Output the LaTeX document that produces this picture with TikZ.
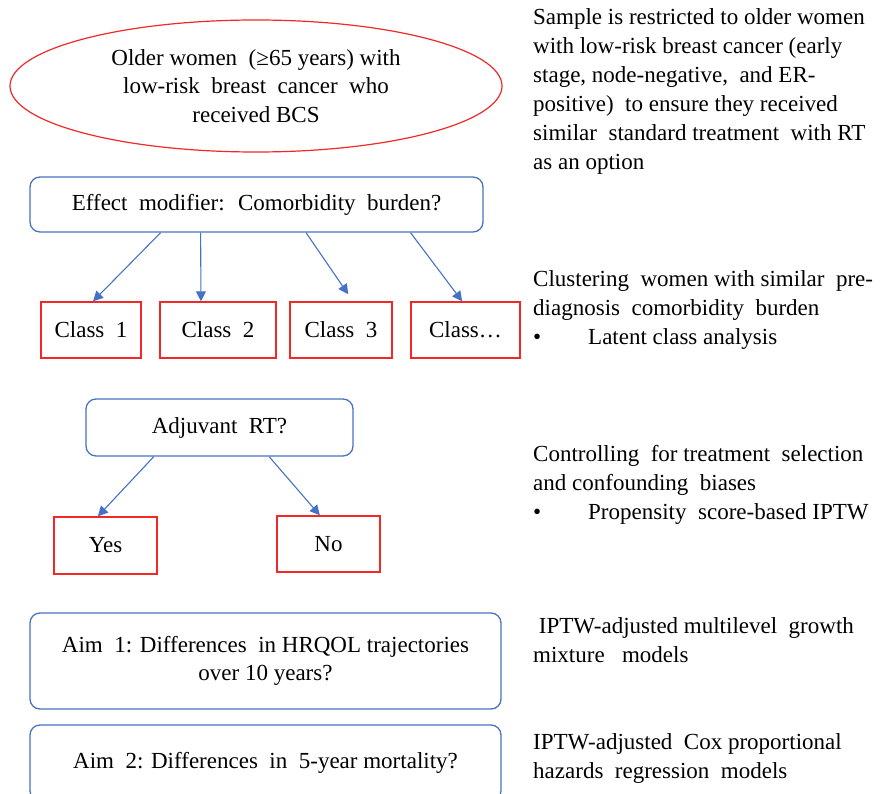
\documentclass[tikz,border=0pt]{standalone}
\usepackage{fontspec}
\setmainfont{Liberation Serif}
\usetikzlibrary{calc, arrows.meta, shapes.geometric}
\definecolor{boxred}{HTML}{F02828}
\definecolor{boxblue}{HTML}{4A72C0}
\definecolor{arrblue}{HTML}{4472C4}

\begin{document}
\begin{tikzpicture}[x=1pt,y=-1pt,
        every node/.style={font=\fontsize{23}{28.5}\selectfont},
        redbox/.style={draw=boxred,line width=1.4pt,minimum height=56pt,inner sep=0pt},
        bluebox/.style={draw=boxblue,line width=1.3pt,rounded corners=10pt,inner sep=0pt,align=center},
        note/.style={anchor=north west,inner sep=0pt,align=left,font=\fontsize{23}{29}\selectfont},
        arr/.style={draw=arrblue,line width=1.1pt,-{Triangle[width=10pt,length=10pt]}}]
            \useasboundingbox (0,0) rectangle (880,794);
            \node[draw=boxred,line width=1.2pt,ellipse,minimum width=492pt,minimum height=132pt,inner sep=0pt,align=center]
                (sample) at (256,86) {Older women \ (≥65 years) with\\low-risk \ breast \ cancer \ who\\received BCS};
            \node[bluebox,minimum width=453pt,minimum height=55pt] (effect) at (256.5,204.5) {Effect \ modifier: \ Comorbidity \ burden?};
            \node[redbox,minimum width=100pt] (c1) at (91,330) {Class \ 1};
            \node[redbox,minimum width=116pt] (c2) at (218,330) {Class \ 2};
            \node[redbox,minimum width=102pt] (c3) at (341,330) {Class \ 3};
            \node[redbox,minimum width=109pt] (c4) at (465.5,330) {Class…};
            \node[bluebox,minimum width=267pt,minimum height=57pt] (adjrt) at (219.5,427.5) {Adjuvant \ RT?};
            \node[redbox,minimum width=103pt,minimum height=57pt] (yes) at (105.5,545.5) {Yes};
            \node[redbox,minimum width=103pt] (no) at (328.5,544) {No};
            \node[bluebox,minimum width=471pt,minimum height=96pt] (aim1) at (265.5,661) {Aim \ 1: Differences \ in HRQOL trajectories\\over 10 years?};
            \node[bluebox,minimum width=471pt,minimum height=76pt] (aim2) at (265.5,763) {Aim \ 2: Differences \ in \ 5-year mortality?};

            \draw[arr] ($(effect.south west)!0.289!(effect.south east)$) -- ($(c1.north west)!0.52!(c1.north east)$);
            \draw[arr] ($(effect.south west)!0.377!(effect.south east)$) -- ($(c2.north west)!0.355!(c2.north east)$);
            \draw[arr] ($(effect.south west)!0.609!(effect.south east)$) -- ($(c3.north west)!0.57!(c3.north east)+(0,-7)$);
            \draw[arr] ($(effect.south west)!0.839!(effect.south east)$) -- ($(c4.north west)!0.47!(c4.north east)$);
            \draw[arr] ($(adjrt.south west)!0.255!(adjrt.south east)$) -- ($(yes.north west)!0.427!(yes.north east)$);
            \draw[arr] ($(adjrt.south west)!0.685!(adjrt.south east)$) -- ($(no.north west)!0.417!(no.north east)$);

            \node[note] (why) at (533,8) {Sample is restricted to older women\\with low-risk breast cancer (early\\stage, node-negative, \ and ER-\\positive) \ to ensure they received\\similar \ standard treatment \ with RT\\as an option};
            \node[note] (lca) at (533,270) {Clustering \ women with similar \ pre-\\diagnosis \ comorbidity \ burden\\\makebox[55pt][l]{•}Latent class analysis};
            \node[note] (iptw) at (533,445) {Controlling \ for treatment \ selection\\and confounding \ biases\\\makebox[55pt][l]{•}Propensity \ score-based IPTW};
            \node[note] (gmm) at (533,617) {\ IPTW-adjusted multilevel \ growth\\mixture \ \ models};
            \node[note] (cox) at (533,733) {IPTW-adjusted \ Cox proportional\\hazards \ regression \ models};
        \end{tikzpicture}
\end{document}
